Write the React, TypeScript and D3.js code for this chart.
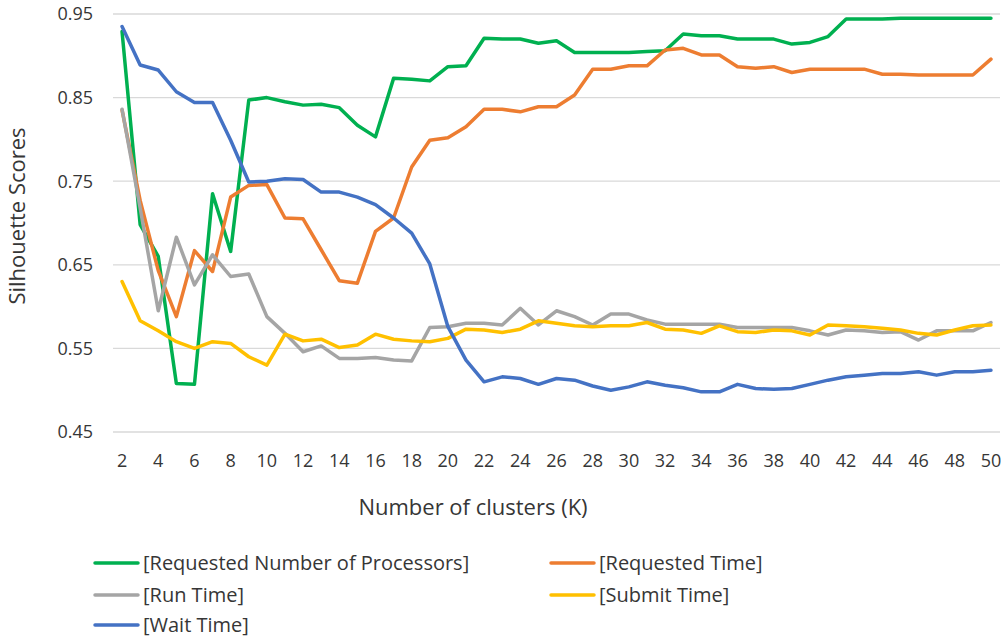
import React from "react";
import * as d3 from "d3";

const clusters: number[] = d3.range(2, 51);

const requestedProcessors: number[] = [
  0.929, 0.698, 0.660, 0.508, 0.507, 0.735, 0.666, 0.847, 0.850, 0.845,
  0.841, 0.842, 0.838, 0.817, 0.803, 0.873, 0.872, 0.870, 0.887, 0.888,
  0.921, 0.920, 0.920, 0.915, 0.918, 0.904, 0.904, 0.904, 0.904, 0.905,
  0.906, 0.926, 0.924, 0.924, 0.920, 0.920, 0.920, 0.914, 0.916, 0.923,
  0.944, 0.944, 0.944, 0.945, 0.945, 0.945, 0.945, 0.945, 0.945,
];

const requestedTime: number[] = [
  0.835, 0.727, 0.643, 0.588, 0.667, 0.642, 0.731, 0.745, 0.746, 0.706,
  0.705, 0.668, 0.631, 0.628, 0.690, 0.706, 0.767, 0.799, 0.802, 0.815,
  0.836, 0.836, 0.833, 0.839, 0.839, 0.853, 0.884, 0.884, 0.888, 0.888,
  0.907, 0.909, 0.901, 0.901, 0.887, 0.885, 0.887, 0.880, 0.884, 0.884,
  0.884, 0.884, 0.878, 0.878, 0.877, 0.877, 0.877, 0.877, 0.896,
];

const runTime: number[] = [
  0.836, 0.718, 0.595, 0.683, 0.626, 0.662, 0.636, 0.639, 0.588, 0.568,
  0.546, 0.553, 0.538, 0.538, 0.539, 0.536, 0.535, 0.575, 0.576, 0.580,
  0.580, 0.578, 0.598, 0.578, 0.595, 0.588, 0.578, 0.591, 0.591, 0.584,
  0.579, 0.579, 0.579, 0.579, 0.575, 0.575, 0.575, 0.575, 0.571, 0.566,
  0.572, 0.571, 0.569, 0.570, 0.560, 0.571, 0.571, 0.571, 0.581,
];

const submitTime: number[] = [
  0.630, 0.583, 0.571, 0.558, 0.550, 0.558, 0.556, 0.540, 0.530, 0.567,
  0.559, 0.561, 0.551, 0.554, 0.567, 0.561, 0.559, 0.558, 0.562, 0.573,
  0.572, 0.569, 0.573, 0.583, 0.580, 0.577, 0.576, 0.577, 0.577, 0.581,
  0.573, 0.572, 0.568, 0.577, 0.570, 0.569, 0.572, 0.571, 0.566, 0.578,
  0.577, 0.576, 0.574, 0.572, 0.568, 0.566, 0.572, 0.577, 0.578,
];

const waitTime: number[] = [
  0.935, 0.889, 0.883, 0.857, 0.844, 0.844, 0.799, 0.749, 0.750, 0.753,
  0.752, 0.737, 0.737, 0.731, 0.722, 0.706, 0.688, 0.651, 0.576, 0.536,
  0.510, 0.516, 0.514, 0.507, 0.514, 0.512, 0.505, 0.500, 0.504, 0.510,
  0.506, 0.503, 0.498, 0.498, 0.507, 0.502, 0.501, 0.502, 0.507, 0.512,
  0.516, 0.518, 0.520, 0.520, 0.522, 0.518, 0.522, 0.522, 0.524,
];

const yTicks: number[] = [0.45, 0.55, 0.65, 0.75, 0.85, 0.95];
const xTickLabels: number[] = d3.range(2, 51, 2);

const seriesNames: string[] = [
  "[Requested Number of Processors]",
  "[Requested Time]",
  "[Run Time]",
  "[Submit Time]",
  "[Wait Time]",
];
const seriesColors: string[] = ["#00b050", "#ed7d31", "#a5a5a5", "#ffc000", "#4472c4"];
const seriesValues: number[][] = [requestedProcessors, requestedTime, runTime, submitTime, waitTime];

const FONT = "'Open Sans', 'DejaVu Sans', sans-serif";
const TEXT = "#363636";

export default function App() {
  const W = 1004;
  const H = 638;
  const left = 113;
  const right = 1000;
  const top = 14;
  const bottom = 432;

  const x = d3.scalePoint<number>().domain(clusters).range([left, right]).padding(0.5);
  const y = d3.scaleLinear().domain([0.45, 0.95]).range([bottom, top]);

  const line = d3
    .line<number>()
    .x((_, i) => x(clusters[i]) as number)
    .y((d) => y(d));

  const legendPos = [
    { lx: 95, ly: 563 },
    { lx: 551, ly: 563 },
    { lx: 95, ly: 595 },
    { lx: 551, ly: 595 },
    { lx: 95, ly: 625 },
  ];

  return (
    <svg
      width={W}
      height={H}
      style={{ position: "absolute", left: 0, top: 0, background: "#fff" }}
      fontFamily={FONT}
    >
      <rect width={W} height={H} fill="#fff" />
      {yTicks.map((t) => (
        <g key={t}>
          <line x1={left} x2={right} y1={y(t)} y2={y(t)} stroke="#d9d9d9" strokeWidth={1.3} />
          <text x={93} y={y(t)} dy="0.36em" textAnchor="end" fontSize={18} fill={TEXT}>
            {t.toFixed(2)}
          </text>
        </g>
      ))}
      {xTickLabels.map((k) => (
        <text key={k} x={x(k) as number} y={467} textAnchor="middle" fontSize={18} fill={TEXT}>
          {k}
        </text>
      ))}
      {seriesValues.map((vals, i) => (
        <path
          key={seriesNames[i]}
          d={line(vals) as string}
          fill="none"
          stroke={seriesColors[i]}
          strokeWidth={3.5}
          strokeLinejoin="round"
          strokeLinecap="round"
        />
      ))}
      <text x={473} y={515} textAnchor="middle" fontSize={22} fill={TEXT}>
        Number of clusters (K)
      </text>
      <text
        transform={`translate(25, 216) rotate(-90)`}
        textAnchor="middle"
        fontSize={22}
        fill={TEXT}
      >
        Silhouette Scores
      </text>
      {seriesNames.map((name, i) => (
        <g key={name} transform={`translate(${legendPos[i].lx}, ${legendPos[i].ly})`}>
          <line x1={0} x2={43} y1={0} y2={0} stroke={seriesColors[i]} strokeWidth={3.5} strokeLinecap="round" />
          <text x={48} y={0} dy="0.35em" fontSize={20} fill={TEXT}>
            {name}
          </text>
        </g>
      ))}
    </svg>
  );
}
